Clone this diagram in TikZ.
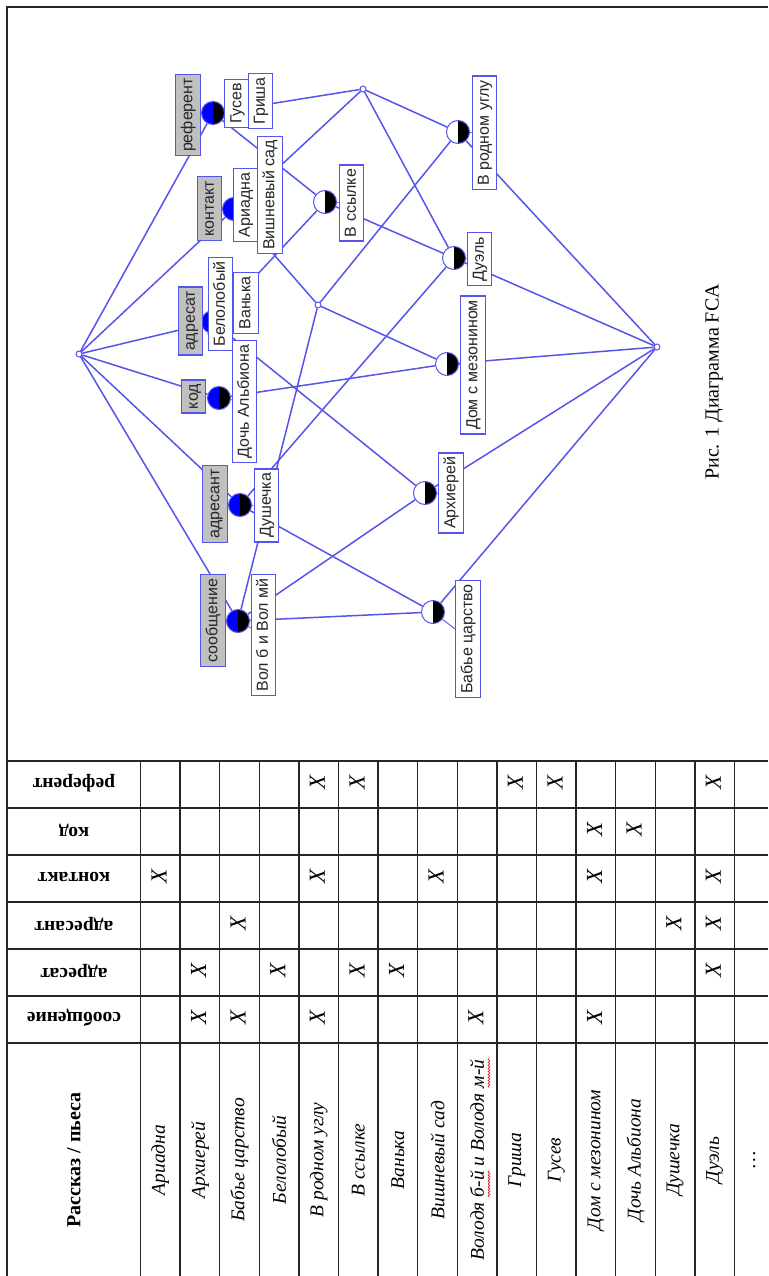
\documentclass[tikz,border=0pt]{standalone}
\usepackage{fontspec}
\setmainfont{Liberation Serif}
\setsansfont{Liberation Sans}
\usetikzlibrary{decorations.pathmorphing}
\definecolor{edgeblue}{RGB}{85,85,235}
\definecolor{attrgray}{RGB}{192,192,192}
\definecolor{conceptblue}{RGB}{0,0,255}
\definecolor{spellred}{RGB}{215,30,30}
\pgfdeclarelayer{bg}
\pgfsetlayers{bg,main}
\tikzset{
  lnk/.style={draw=edgeblue, line width=1.5pt},
  lbl/.style={rotate=90, draw=edgeblue, line width=1.1pt, fill=white, text=black!85,
    font=\sffamily\fontsize{16}{16}\selectfont, inner xsep=4pt, inner ysep=4.5pt,
    text height=12pt, text depth=3.5pt},
  attrlbl/.style={lbl, fill=attrgray},
  half/.style 2 args={circle, minimum size=23pt, inner sep=0pt, draw=edgeblue, line width=1pt,
    path picture={
      \fill[#1] (path picture bounding box.south west) rectangle (path picture bounding box.north);
      \fill[#2] (path picture bounding box.south) rectangle (path picture bounding box.north east);}},
  both/.style={half={conceptblue}{black}},
  objc/.style={half={white}{black}},
  dot/.style={circle, minimum size=6pt, inner sep=0pt, draw=edgeblue, fill=white, line width=1pt},
  rule/.style={draw=black!85, line width=1.3pt},
  hdr/.style={rotate=180, font=\bfseries\fontsize{19.5}{20}\selectfont},
  story/.style={rotate=90, inner sep=0pt, font=\itshape\fontsize{19.5}{20}\selectfont},
  hit/.style={rotate=90, font=\itshape\fontsize{23}{23}\selectfont},
}
\begin{document}
\begin{tikzpicture}[x=1pt,y=-1pt]
\useasboundingbox (0,0) rectangle (768,1276);

% ---------- lattice: concepts ----------
\node[dot]  (top)  at (79,354)  {};
\node[dot]  (bot)  at (657,347) {};
\node[both] (nR)   at (213,113) {};
\node[both] (nK)   at (234,209) {};
\node[both] (nA)   at (213,322) {};
\node[both] (nCod) at (219,398) {};
\node[both] (nAt)  at (240,505) {};
\node[both] (nS)   at (238,621) {};
\node[dot]  (s1)   at (363,89)  {};
\node[dot]  (s2)   at (318,305) {};
\node[objc] (nVS)  at (325,202) {};
\node[objc] (nVRU) at (458,132) {};
\node[objc] (nDu)  at (454,258) {};
\node[objc] (nDom) at (447,364) {};
\node[objc] (nArh) at (425,493) {};
\node[objc] (nBC)  at (433,612) {};

% ---------- lattice: labels ----------
\node[attrlbl] (Lref)  at (188,115)   {референт};
\node[lbl]     (Lgus)  at (237,103.5) {Гусев};
\node[lbl]     (Lgri)  at (260.5,101) {Гриша};
\node[attrlbl] (Lkon)  at (209.5,208.5) {контакт};
\node[lbl]     (Lari)  at (245.5,205) {Ариадна};
\node[lbl]     (Lvish) at (270,195)   {Вишневый сад};
\node[lbl]     (Lvs)   at (351.5,203) {В ссылке};
\node[attrlbl] (Ladr)  at (190.5,321) {адресат};
\node[lbl]     (Lbel)  at (220.5,304) {Белолобый};
\node[lbl]     (Lvan)  at (246,303)   {Ванька};
\node[attrlbl] (Lkod)  at (193.5,396.5) {код};
\node[lbl]     (Ldoch) at (244.5,401.5) {Дочь Альбиона};
\node[attrlbl] (Ladrt) at (215,504)   {адресант};
\node[lbl]     (Ldush) at (266.5,505.5) {Душечка};
\node[attrlbl] (Lsoob) at (213,620.5) {сообщение};
\node[lbl]     (Lvol)  at (263.5,635) {Вол б и Вол мй};
\node[lbl]     (Lvru)  at (484.5,133) {В родном углу};
\node[lbl]     (Ldue)  at (479.5,259) {Дуэль};
\node[lbl]     (Ldom)  at (473,365)   {Дом с мезонином};
\node[lbl]     (Larh)  at (451,493)   {Архиерей};
\node[lbl]     (Lbab)  at (468,639)   {Бабье царство};

\node[rotate=90, font=\fontsize{20}{20}\selectfont] (cap) at (714,382) {Рис. 1 Диаграмма FCA};

% ---------- lattice: edges ----------
\begin{pgfonlayer}{bg}
  \foreach \a/\b in {top/nR, top/nK, top/nA, top/nCod, top/nAt, top/nS,
                     nR/s1, nR/nVS, nK/s1, nK/s2, nA/nVS, nA/nArh, nCod/nDom,
                     nAt/nBC, nAt/nDu, nS/s2, nS/nArh, nS/nBC,
                     s1/nVRU, s1/nDu, nVS/nDu, s2/nVRU, s2/nDom,
                     nVRU/bot, nDu/bot, nDom/bot, nArh/bot, nBC/bot}
    \draw[lnk] (\a) -- (\b);
  % short ties between concepts and their labels
  \foreach \a/\b in {nR/Lref, nR/Lgus, nK/Lkon, nK/Lari, nVS/Lvs, nA/Ladr, nA/Lbel,
                     nCod/Lkod, nCod/Ldoch, nAt/Ladrt, nAt/Ldush, nS/Lsoob, nS/Lvol,
                     nVRU/Lvru, nDu/Ldue, nDom/Ldom, nArh/Larh, nBC/Lbab}
    \draw[lnk, line width=0.9pt] (\a) -- (\b);
\end{pgfonlayer}

% ---------- frame and table grid ----------
\draw[rule, line width=1.7pt] (7,1276) -- (7,7) -- (768,7);
\foreach \y in {761,808,855,902,949,996,1043}
  \draw[rule] (7,\y) -- (768,\y);
\foreach \k in {0,...,15}
  \draw[rule] ({140.5+39.6*\k},761) -- ({140.5+39.6*\k},1276);

% row headers
\node[hdr] (h-ref)  at (74,783)  {референт};
\node[hdr] (h-kod)  at (74,830)  {код};
\node[hdr] (h-kon)  at (74,877)  {контакт};
\node[hdr] (h-adrt) at (74,924)  {адресант};
\node[hdr] (h-adr)  at (74,971)  {адресат};
\node[hdr] (h-soob) at (74,1018) {сообщение};
\node[rotate=90, font=\bfseries\fontsize{20}{20}\selectfont] (h-name) at (74,1160) {Рассказ / пьеса};

% story names
\foreach \k/\t in {0/Ариадна, 1/Архиерей, 2/Бабье царство, 3/Белолобый, 4/В родном углу,
                   5/В ссылке, 6/Ванька, 7/Вишневый сад, 8/Володя б-й и Володя м-й,
                   9/Гриша, 10/Гусев, 11/Дом с мезонином, 12/Дочь Альбиона,
                   13/Душечка, 14/Дуэль}
  \node[story] (st-\k) at ({160.3+39.6*\k},1160) {\t};
\node[story] (st-15) at ({160.3+39.6*15},1160) {\ldots};

% spell-check waves under the abbreviations
\node[story, anchor=west] (w1) at (st-8.west) {\phantom{Володя\ }};
\node[story, anchor=west] (w2) at (w1.east)   {\phantom{б-й}};
\node[story, anchor=west] (w3) at (w2.east)   {\phantom{\ и Володя\ }};
\node[story, anchor=west] (w4) at (w3.east)   {\phantom{м-й}};
\coordinate (u1) at (w2.west -| st-8.base);
\coordinate (u2) at (w2.east -| st-8.base);
\coordinate (u3) at (w4.west -| st-8.base);
\coordinate (u4) at (w4.east -| st-8.base);
\draw[spellred, line width=0.7pt, decorate, decoration={snake, amplitude=0.9pt, segment length=3pt}]
  ([xshift=5pt]u1) -- ([xshift=5pt]u2);
\draw[spellred, line width=0.7pt, decorate, decoration={snake, amplitude=0.9pt, segment length=3pt}]
  ([xshift=5pt]u3) -- ([xshift=5pt]u4);

% incidence marks
\foreach \r/\y/\cols in {ref/782.5/{4,5,9,10,14}, kod/829.5/{11,12}, kon/876.5/{0,4,7,11,14},
                         adrt/923.5/{2,13,14}, adr/970.5/{1,3,5,6,14}, soob/1017.5/{1,2,4,8,11}}
  \foreach \c in \cols
    \node[hit] (x-\r-\c) at ({159+39.6*\c},\y) {X};
\end{tikzpicture}
\end{document}
